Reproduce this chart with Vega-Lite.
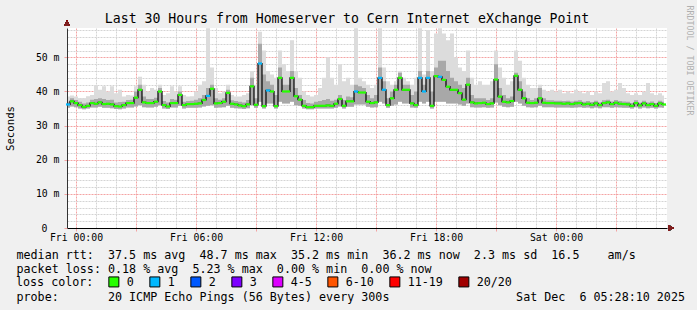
{
"$schema": "https://vega.github.io/schema/vega-lite/v6.json",
"width": 600, "height": 200,
"autosize": {"type": "none"},
"padding": {"left": 67, "top": 28, "right": 30, "bottom": 82},
"background": "#f0f0f0",
"config": {
 "view": {"fill": "#ffffff", "stroke": null},
 "axis": {"labelFont": "DejaVu Sans Mono", "titleFont": "DejaVu Sans Mono", "labelColor": "#000", "titleColor": "#000", "titleFontWeight": "normal"},
 "legend": {"labelFont": "DejaVu Sans Mono", "titleFont": "DejaVu Sans Mono"}
},
"title": {"text": "Last 30 Hours from Homeserver to Cern Internet eXchange Point", "font": "DejaVu Sans Mono", "fontSize": 13.2, "fontWeight": "normal", "color": "#000", "anchor": "middle", "frame": "group", "dx": -20, "dy": 35, "offset": 4.3, "baseline": "alphabetic"},
"data": {"values": [
{"h":-0.4,"m":36.2,"lo":35.2,"q":37.0,"hi":38.5,"c":"1"},
{"h":-0.2,"m":37.1,"lo":35.6,"q":38.0,"hi":38.8,"c":"0"},
{"h":0.0,"m":36.6,"lo":35.4,"q":37.5,"hi":38.5,"c":"0"},
{"h":0.2,"m":36.0,"lo":35.0,"q":37.0,"hi":38.0,"c":"0"},
{"h":0.4,"m":35.5,"lo":34.8,"q":36.5,"hi":38.0,"c":"0"},
{"h":0.6,"m":35.8,"lo":35.0,"q":36.8,"hi":38.6,"c":"0"},
{"h":0.8,"m":36.6,"lo":35.3,"q":37.6,"hi":39.0,"c":"0"},
{"h":1.0,"m":36.4,"lo":35.3,"q":37.8,"hi":41.8,"c":"0"},
{"h":1.2,"m":36.8,"lo":35.5,"q":38.0,"hi":40.5,"c":"0"},
{"h":1.4,"m":36.3,"lo":35.2,"q":37.8,"hi":41.5,"c":"0"},
{"h":1.6,"m":36.4,"lo":35.2,"q":37.5,"hi":40.0,"c":"0"},
{"h":1.8,"m":36.2,"lo":35.1,"q":37.6,"hi":41.5,"c":"0"},
{"h":2.0,"m":35.7,"lo":34.9,"q":36.8,"hi":39.5,"c":"0"},
{"h":2.2,"m":35.6,"lo":34.8,"q":36.9,"hi":40.5,"c":"0"},
{"h":2.4,"m":36.0,"lo":35.0,"q":37.0,"hi":38.5,"c":"0"},
{"h":2.6,"m":36.6,"lo":35.3,"q":37.5,"hi":39.0,"c":"0"},
{"h":2.8,"m":36.6,"lo":35.3,"q":37.6,"hi":38.8,"c":"0"},
{"h":3.0,"m":38.2,"lo":35.6,"q":40.0,"hi":41.5,"c":"0"},
{"h":3.2,"m":40.5,"lo":36.0,"q":42.0,"hi":44.3,"c":"0"},
{"h":3.4,"m":36.8,"lo":35.4,"q":38.5,"hi":42.0,"c":"0"},
{"h":3.6,"m":36.6,"lo":35.3,"q":37.8,"hi":40.0,"c":"0"},
{"h":3.8,"m":36.6,"lo":35.3,"q":37.8,"hi":41.0,"c":"0"},
{"h":4.0,"m":37.0,"lo":35.5,"q":38.2,"hi":40.5,"c":"0"},
{"h":4.2,"m":40.0,"lo":36.0,"q":41.0,"hi":42.0,"c":"0"},
{"h":4.4,"m":36.0,"lo":35.0,"q":37.2,"hi":39.0,"c":"0"},
{"h":4.6,"m":35.6,"lo":34.9,"q":36.8,"hi":39.5,"c":"0"},
{"h":4.8,"m":36.6,"lo":35.3,"q":37.8,"hi":41.5,"c":"0"},
{"h":5.0,"m":36.6,"lo":35.3,"q":37.6,"hi":40.0,"c":"0"},
{"h":5.2,"m":39.0,"lo":35.8,"q":40.0,"hi":41.5,"c":"0"},
{"h":5.4,"m":36.0,"lo":35.0,"q":37.0,"hi":39.0,"c":"0"},
{"h":5.6,"m":36.3,"lo":35.2,"q":37.2,"hi":38.5,"c":"0"},
{"h":5.8,"m":36.3,"lo":35.2,"q":37.3,"hi":38.6,"c":"0"},
{"h":6.0,"m":36.4,"lo":35.2,"q":37.6,"hi":40.0,"c":"0"},
{"h":6.2,"m":36.5,"lo":35.3,"q":38.0,"hi":42.0,"c":"0"},
{"h":6.4,"m":37.5,"lo":35.6,"q":39.0,"hi":43.0,"c":"0"},
{"h":6.6,"m":38.7,"lo":35.8,"q":41.0,"hi":58.5,"c":"1"},
{"h":6.8,"m":40.8,"lo":36.0,"q":42.0,"hi":47.0,"c":"0"},
{"h":7.0,"m":36.5,"lo":35.2,"q":38.0,"hi":41.0,"c":"0"},
{"h":7.2,"m":36.6,"lo":35.3,"q":37.6,"hi":39.5,"c":"0"},
{"h":7.4,"m":37.0,"lo":35.4,"q":38.0,"hi":40.0,"c":"0"},
{"h":7.6,"m":39.6,"lo":35.8,"q":40.5,"hi":42.0,"c":"0"},
{"h":7.8,"m":36.4,"lo":35.2,"q":37.4,"hi":39.0,"c":"0"},
{"h":8.0,"m":36.2,"lo":35.1,"q":37.2,"hi":38.5,"c":"0"},
{"h":8.2,"m":35.9,"lo":35.0,"q":37.0,"hi":38.5,"c":"0"},
{"h":8.4,"m":35.7,"lo":34.9,"q":36.8,"hi":39.0,"c":"0"},
{"h":8.6,"m":36.2,"lo":35.1,"q":37.5,"hi":39.5,"c":"0"},
{"h":8.8,"m":41.5,"lo":36.0,"q":44.0,"hi":46.0,"c":"0"},
{"h":9.0,"m":36.1,"lo":35.2,"q":38.0,"hi":42.0,"c":"0"},
{"h":9.2,"m":48.2,"lo":37.0,"q":54.0,"hi":57.5,"c":"1"},
{"h":9.4,"m":35.7,"lo":35.0,"q":45.0,"hi":52.0,"c":"0"},
{"h":9.6,"m":40.3,"lo":36.5,"q":43.0,"hi":46.0,"c":"1"},
{"h":9.8,"m":40.0,"lo":36.5,"q":42.0,"hi":45.0,"c":"0"},
{"h":10.0,"m":35.7,"lo":35.0,"q":39.0,"hi":44.0,"c":"0"},
{"h":10.2,"m":44.0,"lo":37.0,"q":47.0,"hi":52.0,"c":"0"},
{"h":10.4,"m":40.0,"lo":36.5,"q":42.0,"hi":48.0,"c":"0"},
{"h":10.6,"m":40.0,"lo":36.5,"q":42.0,"hi":46.0,"c":"0"},
{"h":10.8,"m":44.0,"lo":37.0,"q":46.0,"hi":55.0,"c":"0"},
{"h":11.0,"m":38.6,"lo":36.0,"q":41.0,"hi":46.0,"c":"0"},
{"h":11.2,"m":37.6,"lo":35.8,"q":39.0,"hi":44.0,"c":"0"},
{"h":11.4,"m":35.8,"lo":35.0,"q":37.5,"hi":40.0,"c":"0"},
{"h":11.6,"m":35.4,"lo":34.8,"q":36.6,"hi":39.0,"c":"0"},
{"h":11.8,"m":35.4,"lo":34.8,"q":36.5,"hi":38.5,"c":"0"},
{"h":12.0,"m":35.8,"lo":35.0,"q":37.0,"hi":39.0,"c":"0"},
{"h":12.2,"m":35.8,"lo":35.0,"q":37.2,"hi":41.0,"c":"0"},
{"h":12.4,"m":35.8,"lo":35.0,"q":37.5,"hi":44.0,"c":"0"},
{"h":12.6,"m":35.9,"lo":35.0,"q":37.8,"hi":50.0,"c":"0"},
{"h":12.8,"m":35.8,"lo":35.0,"q":37.3,"hi":44.0,"c":"0"},
{"h":13.0,"m":36.4,"lo":35.2,"q":37.6,"hi":42.0,"c":"0"},
{"h":13.2,"m":37.8,"lo":35.6,"q":39.0,"hi":48.0,"c":"0"},
{"h":13.4,"m":35.8,"lo":35.0,"q":37.5,"hi":43.0,"c":"0"},
{"h":13.6,"m":37.1,"lo":35.5,"q":38.5,"hi":44.0,"c":"0"},
{"h":13.8,"m":37.1,"lo":35.5,"q":38.3,"hi":42.0,"c":"0"},
{"h":14.0,"m":40.0,"lo":36.2,"q":42.0,"hi":58.5,"c":"1"},
{"h":14.2,"m":39.7,"lo":36.2,"q":41.5,"hi":44.0,"c":"0"},
{"h":14.4,"m":39.7,"lo":36.2,"q":41.0,"hi":43.0,"c":"0"},
{"h":14.6,"m":37.0,"lo":35.5,"q":39.0,"hi":42.0,"c":"0"},
{"h":14.8,"m":36.6,"lo":35.3,"q":38.0,"hi":41.0,"c":"0"},
{"h":15.0,"m":36.8,"lo":35.4,"q":39.0,"hi":42.0,"c":"0"},
{"h":15.2,"m":44.0,"lo":37.0,"q":47.0,"hi":58.5,"c":"1"},
{"h":15.4,"m":40.5,"lo":36.5,"q":43.0,"hi":47.0,"c":"1"},
{"h":15.6,"m":36.0,"lo":35.2,"q":38.0,"hi":43.0,"c":"0"},
{"h":15.8,"m":38.0,"lo":35.8,"q":40.0,"hi":42.0,"c":"0"},
{"h":16.0,"m":40.5,"lo":36.2,"q":42.0,"hi":43.0,"c":"0"},
{"h":16.2,"m":44.0,"lo":37.0,"q":45.5,"hi":46.0,"c":"0"},
{"h":16.4,"m":40.5,"lo":36.5,"q":42.0,"hi":44.0,"c":"0"},
{"h":16.6,"m":40.5,"lo":36.5,"q":42.0,"hi":43.0,"c":"0"},
{"h":16.8,"m":36.5,"lo":35.3,"q":39.0,"hi":42.0,"c":"0"},
{"h":17.0,"m":36.0,"lo":35.2,"q":40.0,"hi":44.0,"c":"0"},
{"h":17.2,"m":44.0,"lo":37.0,"q":46.0,"hi":58.5,"c":"1"},
{"h":17.4,"m":40.0,"lo":36.5,"q":42.0,"hi":45.0,"c":"1"},
{"h":17.6,"m":44.0,"lo":37.0,"q":46.0,"hi":58.0,"c":"1"},
{"h":17.8,"m":35.8,"lo":35.0,"q":40.0,"hi":46.0,"c":"0"},
{"h":18.0,"m":44.5,"lo":37.0,"q":47.0,"hi":57.0,"c":"0"},
{"h":18.2,"m":44.3,"lo":37.0,"q":49.0,"hi":58.5,"c":"1"},
{"h":18.4,"m":43.4,"lo":37.0,"q":49.0,"hi":57.0,"c":"0"},
{"h":18.6,"m":41.4,"lo":36.5,"q":46.0,"hi":55.0,"c":"0"},
{"h":18.8,"m":40.5,"lo":36.5,"q":44.0,"hi":57.0,"c":"0"},
{"h":19.0,"m":40.5,"lo":36.5,"q":43.0,"hi":50.0,"c":"0"},
{"h":19.2,"m":39.5,"lo":36.2,"q":42.0,"hi":47.0,"c":"0"},
{"h":19.4,"m":37.6,"lo":35.8,"q":41.0,"hi":46.0,"c":"0"},
{"h":19.6,"m":42.0,"lo":36.5,"q":44.0,"hi":52.0,"c":"0"},
{"h":19.8,"m":36.8,"lo":35.4,"q":39.0,"hi":44.0,"c":"0"},
{"h":20.0,"m":36.5,"lo":35.3,"q":38.0,"hi":42.0,"c":"0"},
{"h":20.2,"m":36.6,"lo":35.3,"q":38.0,"hi":43.0,"c":"0"},
{"h":20.4,"m":36.7,"lo":35.4,"q":38.0,"hi":42.0,"c":"0"},
{"h":20.6,"m":36.3,"lo":35.2,"q":37.5,"hi":42.0,"c":"0"},
{"h":20.8,"m":36.5,"lo":35.3,"q":38.0,"hi":43.0,"c":"0"},
{"h":21.0,"m":43.5,"lo":36.8,"q":48.0,"hi":52.0,"c":"0"},
{"h":21.2,"m":38.5,"lo":36.0,"q":41.0,"hi":47.0,"c":"0"},
{"h":21.4,"m":37.0,"lo":35.5,"q":39.0,"hi":44.0,"c":"0"},
{"h":21.6,"m":36.8,"lo":35.4,"q":38.0,"hi":42.0,"c":"0"},
{"h":21.8,"m":37.2,"lo":35.5,"q":38.5,"hi":43.0,"c":"0"},
{"h":22.0,"m":44.6,"lo":37.0,"q":45.5,"hi":52.0,"c":"0"},
{"h":22.2,"m":40.5,"lo":36.5,"q":43.0,"hi":49.0,"c":"0"},
{"h":22.4,"m":38.0,"lo":35.8,"q":40.0,"hi":44.0,"c":"0"},
{"h":22.6,"m":36.7,"lo":35.4,"q":38.0,"hi":42.0,"c":"0"},
{"h":22.8,"m":36.6,"lo":35.3,"q":37.5,"hi":41.0,"c":"0"},
{"h":23.0,"m":36.7,"lo":35.4,"q":38.0,"hi":41.0,"c":"0"},
{"h":23.2,"m":38.0,"lo":35.8,"q":41.0,"hi":42.0,"c":"0"},
{"h":23.4,"m":36.7,"lo":35.4,"q":38.0,"hi":40.5,"c":"0"},
{"h":23.6,"m":36.6,"lo":35.4,"q":37.4,"hi":40.0,"c":"0"},
{"h":23.8,"m":36.6,"lo":35.4,"q":37.4,"hi":40.5,"c":"0"},
{"h":24.0,"m":36.5,"lo":35.3,"q":37.3,"hi":40.0,"c":"0"},
{"h":24.2,"m":36.5,"lo":35.3,"q":37.3,"hi":40.5,"c":"0"},
{"h":24.4,"m":36.4,"lo":35.3,"q":37.2,"hi":39.5,"c":"0"},
{"h":24.6,"m":36.5,"lo":35.3,"q":37.3,"hi":40.0,"c":"0"},
{"h":24.8,"m":36.3,"lo":35.2,"q":37.1,"hi":39.5,"c":"0"},
{"h":25.0,"m":36.5,"lo":35.3,"q":37.3,"hi":40.5,"c":"0"},
{"h":25.2,"m":36.6,"lo":35.4,"q":37.4,"hi":40.0,"c":"0"},
{"h":25.4,"m":36.2,"lo":35.2,"q":37.0,"hi":39.5,"c":"0"},
{"h":25.6,"m":36.4,"lo":35.3,"q":37.2,"hi":40.0,"c":"0"},
{"h":25.8,"m":36.1,"lo":35.1,"q":36.9,"hi":39.0,"c":"0"},
{"h":26.0,"m":36.5,"lo":35.3,"q":37.3,"hi":40.0,"c":"0"},
{"h":26.2,"m":36.0,"lo":35.1,"q":36.8,"hi":39.5,"c":"0"},
{"h":26.4,"m":36.6,"lo":35.4,"q":37.4,"hi":42.5,"c":"0"},
{"h":26.6,"m":36.8,"lo":35.4,"q":37.6,"hi":43.0,"c":"0"},
{"h":26.8,"m":36.3,"lo":35.2,"q":37.1,"hi":40.0,"c":"0"},
{"h":27.0,"m":36.7,"lo":35.4,"q":37.5,"hi":40.5,"c":"0"},
{"h":27.2,"m":36.4,"lo":35.3,"q":37.2,"hi":42.5,"c":"0"},
{"h":27.4,"m":36.3,"lo":35.2,"q":37.1,"hi":41.0,"c":"0"},
{"h":27.6,"m":36.2,"lo":35.2,"q":37.0,"hi":39.5,"c":"0"},
{"h":27.8,"m":35.8,"lo":35.0,"q":36.6,"hi":39.0,"c":"0"},
{"h":28.0,"m":36.6,"lo":35.4,"q":37.4,"hi":39.5,"c":"0"},
{"h":28.2,"m":35.9,"lo":35.0,"q":36.7,"hi":39.0,"c":"0"},
{"h":28.4,"m":36.5,"lo":35.3,"q":37.3,"hi":40.0,"c":"0"},
{"h":28.6,"m":36.0,"lo":35.1,"q":36.8,"hi":42.5,"c":"0"},
{"h":28.8,"m":36.3,"lo":35.2,"q":37.1,"hi":39.5,"c":"0"},
{"h":29.0,"m":35.8,"lo":35.0,"q":36.6,"hi":39.0,"c":"0"},
{"h":29.2,"m":36.5,"lo":35.3,"q":37.3,"hi":39.5,"c":"0"},
{"h":29.4,"m":36.2,"lo":35.2,"q":37.0,"hi":38.8,"c":"0"}
]},
"layer": [
 {
  "mark": {"type": "area", "interpolate": "step", "color": "#dcdcdc"},
  "encoding": {
   "x": {"field": "h", "type": "quantitative",
    "scale": {"domain": [-0.45, 29.55], "nice": false, "zero": false},
    "axis": {
     "orient": "bottom",
     "values": [0,1,2,3,4,5,6,7,8,9,10,11,12,13,14,15,16,17,18,19,20,21,22,23,24,25,26,27,28,29],
     "labelExpr": "datum.value % 6 === 0 ? ['Fri 00:00','Fri 06:00','Fri 12:00','Fri 18:00','Sat 00:00'][datum.value / 6] : ''",
     "labelFontSize": 9.8, "labelPadding": 1, "labelOverlap": false, "labelFlush": false, "labelBound": false,
     "grid": true, "gridDash": [2,1], "gridWidth": 1,
     "gridColor": {"condition": {"test": "datum.value % 3 === 0", "value": "#f4a3a3"}, "value": "#d4d4d4"},
     "tickColor": {"condition": {"test": "datum.value % 3 === 0", "value": "#f4a3a3"}, "value": "transparent"},
     "tickSize": 3, "domainColor": "#000000", "domainWidth": 1,
     "title": ["median\u00a0rtt:\u00a0\u00a037.5\u00a0ms\u00a0avg\u00a0\u00a048.7\u00a0ms\u00a0max\u00a0\u00a035.2\u00a0ms\u00a0min\u00a0\u00a036.2\u00a0ms\u00a0now\u00a0\u00a02.3\u00a0ms\u00a0sd\u00a0\u00a016.5\u00a0\u00a0\u00a0\u00a0am/s",
               "packet\u00a0loss:\u00a00.18\u00a0%\u00a0avg\u00a0\u00a05.23\u00a0%\u00a0max\u00a0\u00a00.00\u00a0%\u00a0min\u00a0\u00a00.00\u00a0%\u00a0now"],
     "titleFontSize": 11.7, "titleAlign": "left", "titleBaseline": "alphabetic", "titleX": -51, "titleY": 30.2, "titleLineHeight": 14
    }},
   "y": {"field": "lo", "type": "quantitative",
    "scale": {"domain": [0, 58.6], "nice": false, "zero": false},
    "axis": {
     "orient": "left",
     "values": [0,2,4,6,8,10,12,14,16,18,20,22,24,26,28,30,32,34,36,38,40,42,44,46,48,50,52,54,56,58],
     "labelExpr": "datum.value % 10 === 0 ? (datum.value === 0 ? '0' : datum.value + ' m') : ''",
     "labelFontSize": 9.8, "labelOverlap": false, "labelBound": false,
     "labelPadding": {"condition": {"test": "datum.value === 0", "value": 17}, "value": 5},
     "grid": true, "gridDash": [2,1], "gridWidth": 1,
     "gridColor": {"condition": {"test": "datum.value % 10 === 0", "value": "#f4a3a3"}, "value": "#d4d4d4"},
     "tickColor": {"condition": {"test": "datum.value % 10 === 0", "value": "#f4a3a3"}, "value": "transparent"},
     "tickSize": 3, "domainColor": "#333333", "domainWidth": 1,
     "title": "Seconds", "titleFontSize": 10.7, "titleAngle": 270, "titleAlign": "center", "titleBaseline": "middle", "titleX": -57, "titleY": 100
    }},
   "y2": {"field": "hi"}
  }
 },
 {
  "mark": {"type": "area", "interpolate": "step", "color": "#a8a8a8"},
  "encoding": {
   "x": {"field": "h", "type": "quantitative", "axis": null},
   "y": {"field": "lo", "type": "quantitative", "axis": null},
   "y2": {"field": "q"}
  }
 },
 {
  "mark": {"type": "line", "interpolate": "step", "color": "#000000", "strokeWidth": 1.2},
  "encoding": {
   "x": {"field": "h", "type": "quantitative", "axis": null},
   "y": {"field": "m", "type": "quantitative", "axis": null}
  }
 },
 {
  "mark": {"type": "tick", "orient": "horizontal", "size": 4, "thickness": 2.2, "opacity": 1},
  "encoding": {
   "x": {"field": "h", "type": "quantitative", "axis": null},
   "y": {"field": "m", "type": "quantitative", "axis": null},
   "color": {"field": "c", "type": "nominal",
    "scale": {"domain": ["0","1","2","3","4-5","6-10","11-19","20/20"], "range": ["#26ff00","#00b8ff","#0059ff","#7e00ff","#dd00ff","#ff5500","#ff0000","#a10000"]},
    "legend": {"orient": "none", "legendX": -51, "legendY": 248, "direction": "horizontal", "title": "loss\u00a0color:", "titleOrient": "left", "titleFontSize": 11.7, "titleFontWeight": "normal", "titleColor": "#000", "titlePadding": 14, "titleBaseline": "middle",
     "labelFontSize": 11.7, "labelColor": "#000", "labelOffset": 7, "columnPadding": 13, "padding": 0,
     "symbolType": "square", "symbolSize": 100, "symbolStrokeColor": "#000", "symbolStrokeWidth": 1, "symbolOpacity": 1}}
  }
 },
 {
  "mark": {"type": "point", "shape": "triangle-up", "filled": true, "size": 35, "color": "#7f1f1f", "opacity": 1, "yOffset": -4.6},
  "encoding": {
   "x": {"datum": -0.45, "type": "quantitative", "axis": null},
   "y": {"datum": 58.6, "type": "quantitative",
    "axis": {"orient": "right", "domain": false, "ticks": false, "labels": false, "grid": false,
     "title": "RRDTOOL\u00a0/\u00a0TOBI\u00a0OETIKER", "titleFontSize": 8.3, "titleColor": "#b0b0b0", "titleAngle": 90, "titleAlign": "left", "titleBaseline": "middle", "titleX": 21, "titleY": -23}}
  }
 },
 {
  "mark": {"type": "point", "shape": "triangle-right", "filled": true, "size": 35, "color": "#7f1f1f", "opacity": 1, "xOffset": 4},
  "encoding": {
   "x": {"datum": 29.55, "type": "quantitative",
    "axis": {"orient": "bottom", "domain": false, "ticks": false, "labels": false, "grid": false,
     "title": "probe:\u00a0\u00a0\u00a0\u00a0\u00a0\u00a0\u00a020\u00a0ICMP\u00a0Echo\u00a0Pings\u00a0(56\u00a0Bytes)\u00a0every\u00a0300s\u00a0\u00a0\u00a0\u00a0\u00a0\u00a0\u00a0\u00a0\u00a0\u00a0\u00a0\u00a0\u00a0\u00a0\u00a0\u00a0\u00a0\u00a0Sat\u00a0Dec\u00a0\u00a06\u00a005:28:10\u00a02025",
     "titleFontSize": 11.7, "titleAlign": "left", "titleBaseline": "alphabetic", "titleX": -51, "titleY": 72.2}},
   "y": {"datum": 0, "type": "quantitative", "axis": null}
  }
 }
],
"resolve": {"axis": {"x": "independent", "y": "independent"}}
}
